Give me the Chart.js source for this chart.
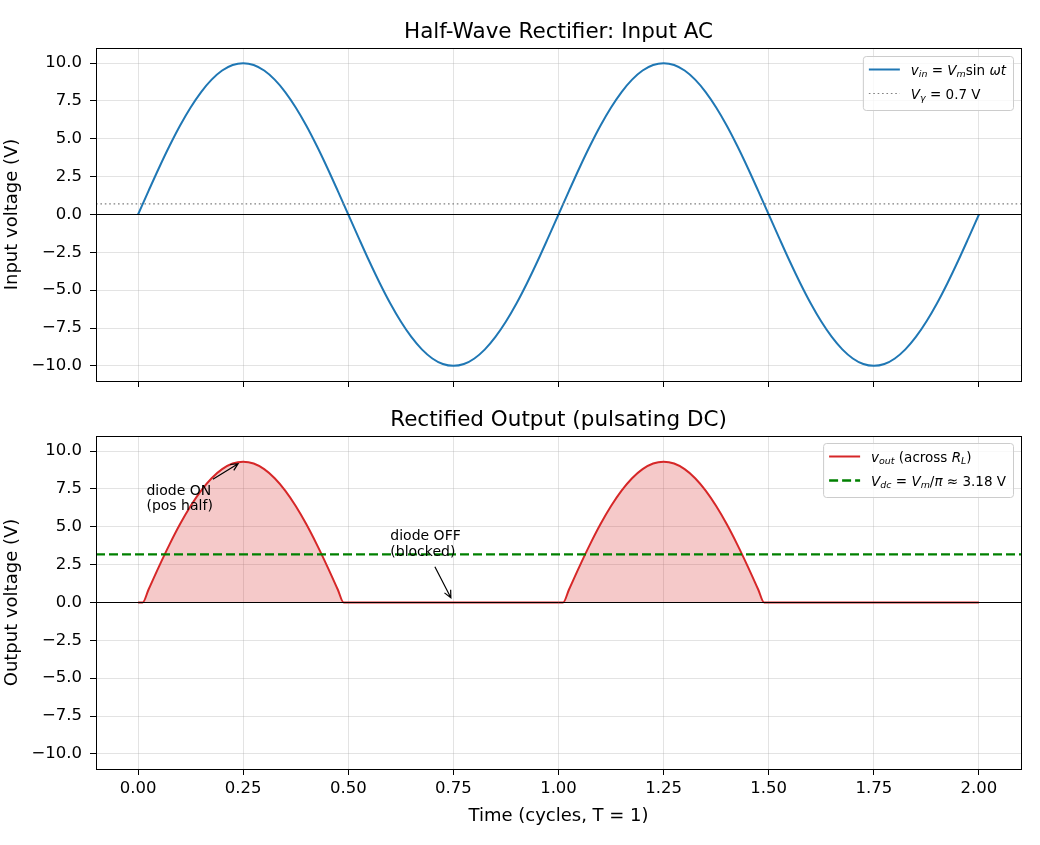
<!DOCTYPE html>
<html>
<head>
<meta charset="utf-8">
<script src="https://cdn.jsdelivr.net/npm/chart.js@4/dist/chart.umd.min.js"></script>
<style>
  body { margin: 0; background: #fff; }
  #wrap { position: relative; width: 1040px; height: 845px; }
  canvas { position: absolute; left: 0; }
  #top { top: 0; }
  #bottom { top: 395px; }
</style>
</head>
<body>
<div id="wrap">
  <canvas id="top" width="1040" height="415" style="width:1040px;height:415px"></canvas>
  <canvas id="bottom" width="1040" height="450" style="width:1040px;height:450px"></canvas>
</div>
<script>
// time axis in cycles (T = 1)
const times = [
  0, 0.025, 0.05, 0.075, 0.1, 0.125, 0.15, 0.175, 0.2, 0.225,
  0.25, 0.275, 0.3, 0.325, 0.35, 0.375, 0.4, 0.425, 0.45, 0.475,
  0.5, 0.525, 0.55, 0.575, 0.6, 0.625, 0.65, 0.675, 0.7, 0.725,
  0.75, 0.775, 0.8, 0.825, 0.85, 0.875, 0.9, 0.925, 0.95, 0.975,
  1.0, 1.025, 1.05, 1.075, 1.1, 1.125, 1.15, 1.175, 1.2, 1.225,
  1.25, 1.275, 1.3, 1.325, 1.35, 1.375, 1.4, 1.425, 1.45, 1.475,
  1.5, 1.525, 1.55, 1.575, 1.6, 1.625, 1.65, 1.675, 1.7, 1.725,
  1.75, 1.775, 1.8, 1.825, 1.85, 1.875, 1.9, 1.925, 1.95, 1.975,
  2.0
];
// input AC voltage (V)
const vin = [
  0, 1.56, 3.09, 4.54, 5.88, 7.07, 8.09, 8.91, 9.51, 9.88,
  10.0, 9.88, 9.51, 8.91, 8.09, 7.07, 5.88, 4.54, 3.09, 1.56,
  0, -1.56, -3.09, -4.54, -5.88, -7.07, -8.09, -8.91, -9.51, -9.88,
  -10.0, -9.88, -9.51, -8.91, -8.09, -7.07, -5.88, -4.54, -3.09, -1.56,
  0, 1.56, 3.09, 4.54, 5.88, 7.07, 8.09, 8.91, 9.51, 9.88,
  10.0, 9.88, 9.51, 8.91, 8.09, 7.07, 5.88, 4.54, 3.09, 1.56,
  0, -1.56, -3.09, -4.54, -5.88, -7.07, -8.09, -8.91, -9.51, -9.88,
  -10.0, -9.88, -9.51, -8.91, -8.09, -7.07, -5.88, -4.54, -3.09, -1.56,
  0
];
// rectified output across R_L
const outTimes = [
  0, 0.011,
  0.025, 0.05, 0.075, 0.1, 0.125, 0.15, 0.175, 0.2, 0.225, 0.25,
  0.275, 0.3, 0.325, 0.35, 0.375, 0.4, 0.425, 0.45, 0.475,
  0.489, 1.011,
  1.025, 1.05, 1.075, 1.1, 1.125, 1.15, 1.175, 1.2, 1.225, 1.25,
  1.275, 1.3, 1.325, 1.35, 1.375, 1.4, 1.425, 1.45, 1.475,
  1.489, 2.0
];
const outVals = [
  0, 0,
  0.86, 2.39, 3.84, 5.18, 6.37, 7.39, 8.21, 8.81, 9.18, 9.30,
  9.18, 8.81, 8.21, 7.39, 6.37, 5.18, 3.84, 2.39, 0.86,
  0, 0,
  0.86, 2.39, 3.84, 5.18, 6.37, 7.39, 8.21, 8.81, 9.18, 9.30,
  9.18, 8.81, 8.21, 7.39, 6.37, 5.18, 3.84, 2.39, 0.86,
  0, 0
];
const vGamma = 0.7;
const vDc = 3.18;

const xTicks = [0, 0.25, 0.5, 0.75, 1.0, 1.25, 1.5, 1.75, 2.0];
const xTickLabels = ["0.00", "0.25", "0.50", "0.75", "1.00", "1.25", "1.50", "1.75", "2.00"];
const yTicks = [-10, -7.5, -5, -2.5, 0, 2.5, 5, 7.5, 10];
const yTickLabels = ["\u221210.0", "\u22127.5", "\u22125.0", "\u22122.5", "0.0", "2.5", "5.0", "7.5", "10.0"];

const FONT = "DejaVu Sans";

function segFont(s, size) {
  const sz = s.sub ? size * 0.7 : size;
  return (s.it ? "italic " : "") + sz + "px '" + FONT + "'";
}
function richWidth(ctx, segs, size) {
  let w = 0;
  segs.forEach((s) => { ctx.font = segFont(s, size); w += ctx.measureText(s.t).width; });
  return w;
}
function drawRich(ctx, x, y, segs, size) {
  ctx.textBaseline = "alphabetic";
  ctx.textAlign = "left";
  segs.forEach((s) => {
    ctx.font = segFont(s, size);
    ctx.fillText(s.t, x, y + (s.sub ? size * 0.22 : 0));
    x += ctx.measureText(s.t).width;
  });
}

function drawLegend(ctx, a, L) {
  const size = 13.5;
  let tw = 0;
  L.items.forEach((it) => { tw = Math.max(tw, richWidth(ctx, it.label, size)); });
  const w = 48 + tw + 7;
  const h = 30 + (L.items.length - 1) * 24;
  const x = a.right - 8 - w;
  const y = a.top + L.inset;
  ctx.save();
  ctx.beginPath();
  ctx.roundRect(x + 0.5, y + 0.5, w, h, 3);
  ctx.fillStyle = "rgba(255,255,255,0.8)";
  ctx.fill();
  ctx.strokeStyle = "#cccccc";
  ctx.lineWidth = 1;
  ctx.stroke();
  L.items.forEach((it, i) => {
    const cy = y + 13.5 + i * 24;
    ctx.beginPath();
    ctx.setLineDash(it.dash || []);
    ctx.strokeStyle = it.color;
    ctx.lineWidth = it.width;
    ctx.moveTo(x + 6, cy);
    ctx.lineTo(x + 37, cy);
    ctx.stroke();
    ctx.setLineDash([]);
    ctx.fillStyle = "#000";
    drawRich(ctx, x + 48, cy + 5, it.label, size);
  });
  ctx.restore();
}

function drawArrow(ctx, x1, y1, x2, y2) {
  const ang = Math.atan2(y2 - y1, x2 - x1);
  const hl = 8;
  ctx.beginPath();
  ctx.moveTo(x1, y1);
  ctx.lineTo(x2, y2);
  ctx.moveTo(x2 - hl * Math.cos(ang - 0.45), y2 - hl * Math.sin(ang - 0.45));
  ctx.lineTo(x2, y2);
  ctx.lineTo(x2 - hl * Math.cos(ang + 0.45), y2 - hl * Math.sin(ang + 0.45));
  ctx.stroke();
}

const deco = {
  id: "deco",
  afterDatasetsDraw(chart, args, o) {
    const { ctx, chartArea: a } = chart;
    const y = chart.scales.y;
    ctx.save();
    (o.hlines || []).forEach((h) => {
      const py = y.getPixelForValue(h.value);
      ctx.beginPath();
      ctx.setLineDash(h.dash || []);
      ctx.strokeStyle = h.color;
      ctx.lineWidth = h.width;
      ctx.moveTo(a.left, py);
      ctx.lineTo(a.right, py);
      ctx.stroke();
    });
    ctx.restore();
  },
  afterDraw(chart, args, o) {
    const { ctx, chartArea: a } = chart;
    const x = chart.scales.x, y = chart.scales.y;
    ctx.save();
    // frame
    ctx.strokeStyle = "#000";
    ctx.lineWidth = 1;
    ctx.strokeRect(Math.round(a.left) + 0.5, Math.round(a.top) + 0.5,
      Math.round(a.right - a.left), Math.round(a.bottom - a.top));
    ctx.fillStyle = "#000";
    // title
    ctx.font = "21.5px '" + FONT + "'";
    ctx.textAlign = "center";
    ctx.textBaseline = "alphabetic";
    ctx.fillText(o.title, (a.left + a.right) / 2, a.top - 10);
    // axis labels
    ctx.font = "18px '" + FONT + "'";
    if (o.xLabel) ctx.fillText(o.xLabel, (a.left + a.right) / 2, a.bottom + 52);
    ctx.save();
    ctx.translate(12, (a.top + a.bottom) / 2);
    ctx.rotate(-Math.PI / 2);
    ctx.textBaseline = "middle";
    ctx.fillText(o.yLabel, 0, 0);
    ctx.restore();
    // annotations
    (o.notes || []).forEach((n) => {
      ctx.font = "14px '" + FONT + "'";
      ctx.textAlign = "left";
      ctx.textBaseline = "alphabetic";
      const tx = x.getPixelForValue(n.at[0]);
      const ty = y.getPixelForValue(n.at[1]);
      n.text.forEach((line, i) => {
        ctx.fillText(line, tx, ty - (n.text.length - 1 - i) * 15.5);
      });
      ctx.strokeStyle = "#000";
      ctx.lineWidth = 1.2;
      drawArrow(ctx, x.getPixelForValue(n.tail[0]), y.getPixelForValue(n.tail[1]),
        x.getPixelForValue(n.head[0]), y.getPixelForValue(n.head[1]));
    });
    ctx.restore();
    if (o.legend) drawLegend(ctx, a, o.legend);
  }
};

function scalesFor(showX, xAxisHeight) {
  const grid = { color: "rgba(176,176,176,0.35)", lineWidth: 1, tickColor: "#000", tickLength: 6, drawTicks: true };
  const tickFont = { family: FONT, size: 16.5 };
  return {
    x: {
      type: "linear", min: -0.1, max: 2.1,
      afterBuildTicks: (s) => { s.ticks = xTicks.map((v) => ({ value: v })); },
      afterFit: (s) => { s.height = xAxisHeight; },
      grid: grid,
      border: { display: false },
      ticks: {
        autoSkip: false, maxRotation: 0, padding: 4, color: "#000", font: tickFont,
        callback: (v, i) => (showX ? xTickLabels[i] : "")
      }
    },
    y: {
      min: -11, max: 11,
      afterBuildTicks: (s) => { s.ticks = yTicks.map((v) => ({ value: v })); },
      afterFit: (s) => { s.width = 96; },
      grid: grid,
      border: { display: false },
      ticks: {
        autoSkip: false, padding: 8, color: "#000", font: tickFont,
        callback: (v, i) => yTickLabels[i]
      }
    }
  };
}

new Chart(document.getElementById("top").getContext("2d"), {
  type: "line",
  data: {
    datasets: [{
      data: times.map((t, i) => ({ x: t, y: vin[i] })),
      borderColor: "#1f77b4",
      borderWidth: 2,
      pointRadius: 0,
      cubicInterpolationMode: "monotone",
      fill: false
    }]
  },
  options: {
    responsive: false,
    animation: false,
    layout: { padding: { left: 0, right: 19, top: 48, bottom: 0 } },
    plugins: {
      legend: { display: false },
      tooltip: { enabled: false },
      deco: {
        title: "Half-Wave Rectifier: Input AC",
        yLabel: "Input voltage (V)",
        hlines: [
          { value: 0, color: "#000", width: 1 },
          { value: vGamma, color: "#808080", width: 1.2, dash: [1.6, 2.8] }
        ],
        legend: {
          inset: 8,
          items: [
            { color: "#1f77b4", width: 2, label: [
              { t: "v", it: 1 }, { t: "in", it: 1, sub: 1 }, { t: " = " },
              { t: "V", it: 1 }, { t: "m", it: 1, sub: 1 }, { t: "sin " }, { t: "\u03c9t", it: 1 }] },
            { color: "#808080", width: 1.2, dash: [1.6, 2.8], label: [
              { t: "V", it: 1 }, { t: "\u03b3", it: 1, sub: 1 }, { t: " = 0.7 V" }] }
          ]
        }
      }
    },
    scales: scalesFor(false, 34)
  },
  plugins: [deco]
});

new Chart(document.getElementById("bottom").getContext("2d"), {
  type: "line",
  data: {
    datasets: [{
      data: outTimes.map((t, i) => ({ x: t, y: outVals[i] })),
      borderColor: "#d62728",
      borderWidth: 2,
      pointRadius: 0,
      cubicInterpolationMode: "monotone",
      fill: "origin",
      backgroundColor: "rgba(214,39,40,0.25)"
    }]
  },
  options: {
    responsive: false,
    animation: false,
    layout: { padding: { left: 0, right: 19, top: 41, bottom: 0 } },
    plugins: {
      legend: { display: false },
      tooltip: { enabled: false },
      deco: {
        title: "Rectified Output (pulsating DC)",
        yLabel: "Output voltage (V)",
        xLabel: "Time (cycles, T = 1)",
        hlines: [
          { value: 0, color: "#000", width: 1 },
          { value: vDc, color: "#008000", width: 2.3, dash: [9, 4] }
        ],
        notes: [
          { text: ["diode ON", "(pos half)"], at: [0.02, 6.1], tail: [0.178, 8.15], head: [0.238, 9.17] },
          { text: ["diode OFF", "(blocked)"], at: [0.6, 3.1], tail: [0.706, 2.36], head: [0.744, 0.32] }
        ],
        legend: {
          inset: 7,
          items: [
            { color: "#d62728", width: 2, label: [
              { t: "v", it: 1 }, { t: "out", it: 1, sub: 1 }, { t: " (across " },
              { t: "R", it: 1 }, { t: "L", it: 1, sub: 1 }, { t: ")" }] },
            { color: "#008000", width: 2.3, dash: [9, 4], label: [
              { t: "V", it: 1 }, { t: "dc", it: 1, sub: 1 }, { t: " = " },
              { t: "V", it: 1 }, { t: "m", it: 1, sub: 1 }, { t: "/" }, { t: "\u03c0", it: 1 },
              { t: " \u2248 3.18 V" }] }
          ]
        }
      }
    },
    scales: scalesFor(true, 76)
  },
  plugins: [deco]
});
</script>
</body>
</html>
